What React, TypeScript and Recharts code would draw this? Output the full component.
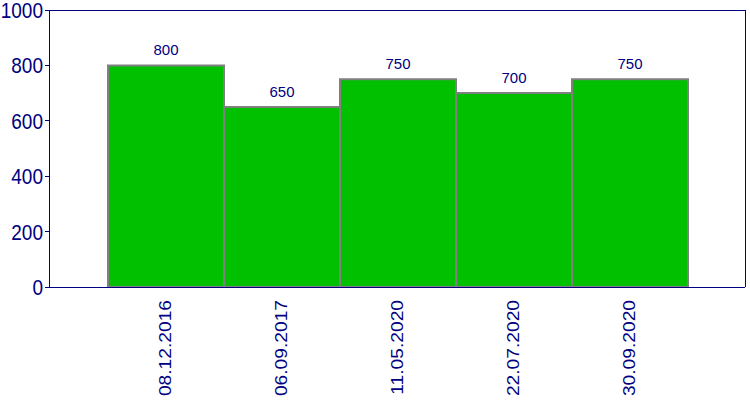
import { BarChart, Bar, XAxis, YAxis, LabelList } from "recharts";

const dates = ["08.12.2016", "06.09.2017", "11.05.2020", "22.07.2020", "30.09.2020"];
const values = [800, 650, 750, 700, 750];
const yTicks = [0, 200, 400, 600, 800, 1000];

const data = dates.map((d, i) => ({ date: d, value: values[i] }));

const navy = "#000080";
const font = "'Liberation Sans', Arial, sans-serif";
const line = { stroke: navy, strokeWidth: 1, shapeRendering: "crispEdges" };

// tick text in the reference is drawn taller than it is wide
function DateTick(props: any) {
  const { x, y, payload } = props;
  return (
    <text
      x={0}
      y={0}
      transform={`translate(${x - 1},${y + 5}) rotate(-90) scale(1.13,1)`}
      textAnchor="end"
      dominantBaseline="central"
      fill={navy}
      fontSize={17}
      fontFamily={font}
    >
      {payload.value}
    </text>
  );
}

function ValueTick(props: any) {
  const { x, y, payload } = props;
  return (
    <text
      x={0}
      y={0}
      transform={`translate(${x},${y}) scale(1,1.18)`}
      textAnchor="end"
      dominantBaseline="central"
      fill={navy}
      fontSize={19}
      fontFamily={font}
    >
      {payload.value}
    </text>
  );
}

export default function App() {
  return (
    <div style={{ position: "fixed", left: 0, top: 0, background: "#fff" }}>
      <BarChart
        width={750}
        height={400}
        data={data}
        margin={{ top: 9, right: 0, bottom: 0, left: 0 }}
        barCategoryGap={0}
        style={{ fontFamily: font }}
      >
        <XAxis
          dataKey="date"
          height={113}
          padding={{ left: 59, right: 57 }}
          interval={0}
          tickLine={false}
          axisLine={line}
          tick={<DateTick />}
        />
        <XAxis
          xAxisId="top"
          orientation="top"
          dataKey="date"
          height={1}
          tick={false}
          tickLine={false}
          axisLine={line}
        />
        <YAxis
          width={49}
          domain={[0, 1000]}
          ticks={yTicks}
          tickSize={4}
          tickMargin={2}
          tickLine={line}
          axisLine={line}
          tick={<ValueTick />}
        />
        <YAxis
          yAxisId="right"
          orientation="right"
          width={5}
          domain={[0, 1000]}
          tick={false}
          tickLine={false}
          axisLine={line}
        />
        <Bar
          dataKey="value"
          fill="#00c000"
          stroke="#808080"
          strokeWidth={2}
          isAnimationActive={false}
        >
          <LabelList
            dataKey="value"
            position="top"
            offset={10}
            fill={navy}
            fontSize={15}
            fontFamily={font}
          />
        </Bar>
      </BarChart>
    </div>
  );
}
